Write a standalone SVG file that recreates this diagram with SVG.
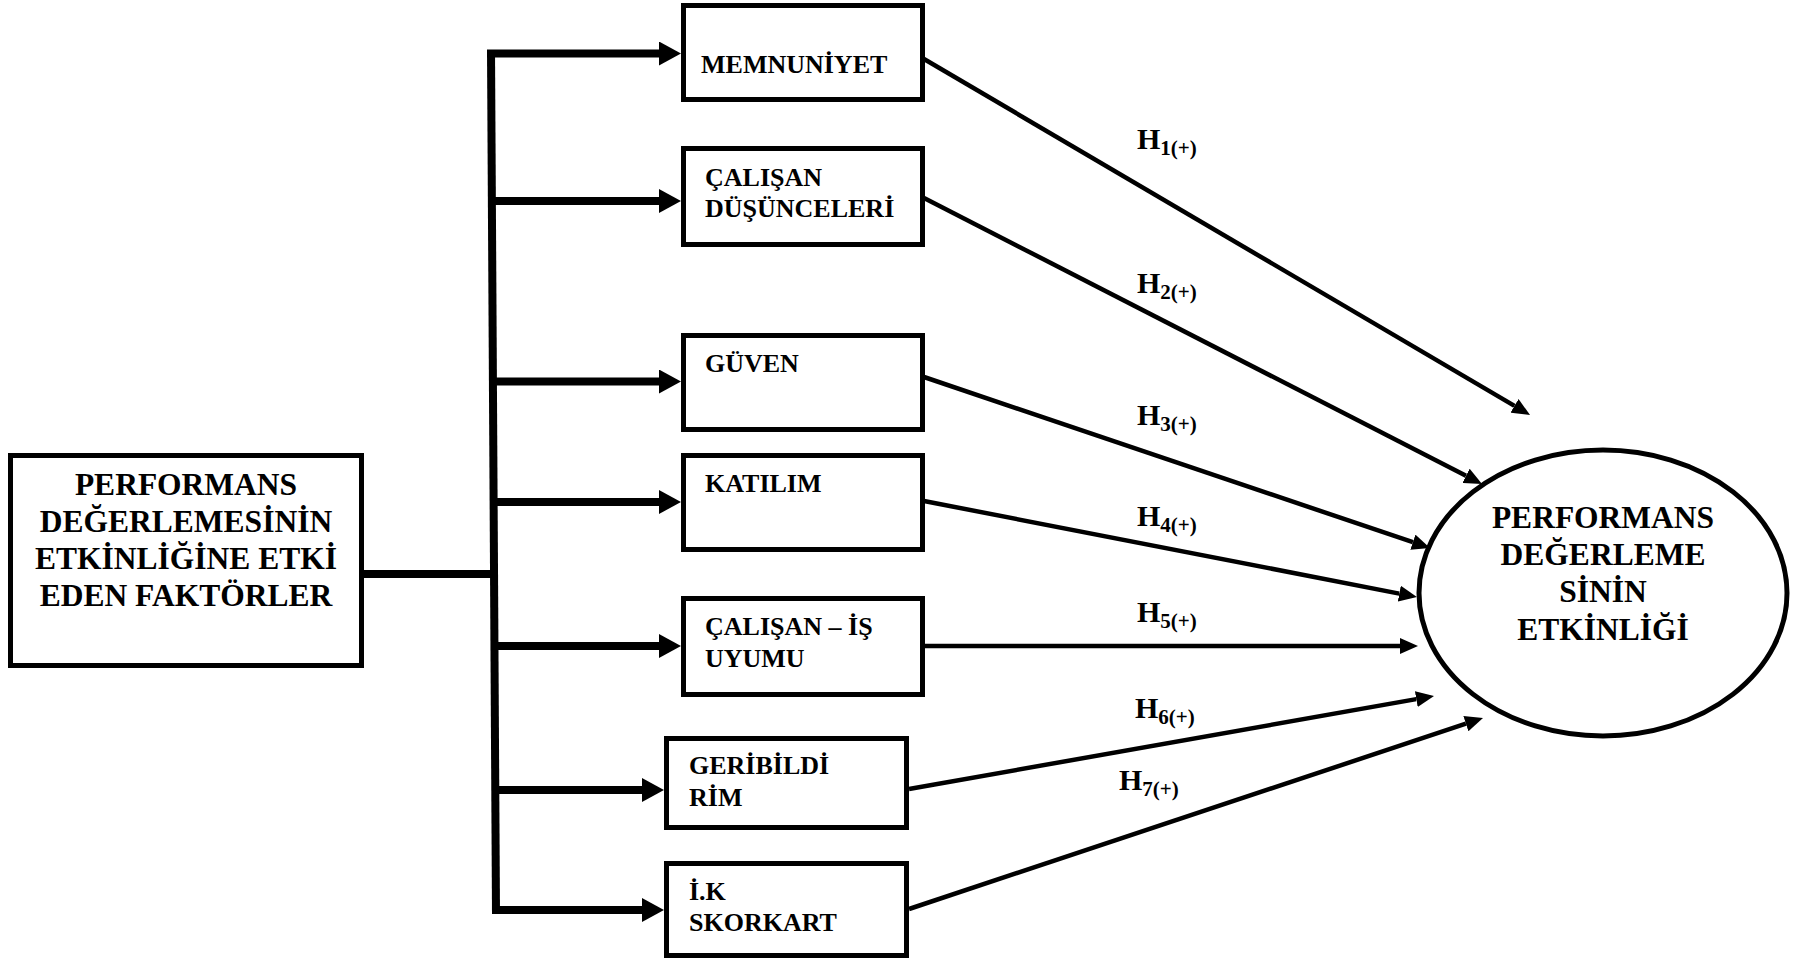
<svg xmlns="http://www.w3.org/2000/svg" width="1793" height="961" viewBox="0 0 1793 961">
<style>
.box{fill:#fff;stroke:#000;stroke-width:5}
.t{font-family:"Liberation Serif","Times New Roman",serif;font-weight:bold;fill:#000}
.big{font-size:31.5px}
.mid{font-size:26px}
.h{font-size:30px}
.s{font-size:21px}
.thick{stroke:#000;stroke-width:8;fill:none}
.thin{stroke:#000;stroke-width:4.5;fill:none}
.la{marker-end:url(#ah1)}
.ra{marker-end:url(#ah2)}
</style>
<defs>
<marker id="ah1" markerUnits="userSpaceOnUse" markerWidth="22" markerHeight="24" refX="0" refY="12" orient="auto"><path d="M0,0 L22,12 L0,24 z" fill="#000"/></marker>
<marker id="ah2" markerUnits="userSpaceOnUse" markerWidth="18" markerHeight="16" refX="0" refY="8" orient="auto"><path d="M0,0 L18,8 L0,16 z" fill="#000"/></marker>
</defs>
<rect width="1793" height="961" fill="#fff"/>
<g id="connectors">
<line class="thick" x1="364" y1="574" x2="494" y2="574"/>
<line class="thick" x1="491" y1="50" x2="496" y2="914"/>
<line class="thick la" x1="487" y1="53.5" x2="659" y2="53.5"/>
<line class="thick la" x1="491" y1="201" x2="659" y2="201"/>
<line class="thick la" x1="492" y1="381.5" x2="659" y2="381.5"/>
<line class="thick la" x1="493" y1="502" x2="659" y2="502"/>
<line class="thick la" x1="494" y1="646" x2="659" y2="646"/>
<line class="thick la" x1="495" y1="790" x2="642" y2="790"/>
<line class="thick la" x1="492" y1="910" x2="642" y2="910"/>
<line class="thin ra" x1="924" y1="59" x2="1514.5" y2="405.9"/>
<line class="thin ra" x1="924" y1="198" x2="1466" y2="475.8"/>
<line class="thin ra" x1="924" y1="377" x2="1412.9" y2="542.2"/>
<line class="thin ra" x1="924" y1="501" x2="1399.3" y2="593.6"/>
<line class="thin ra" x1="925" y1="646" x2="1400" y2="646"/>
<line class="thin ra" x1="909" y1="789" x2="1416.3" y2="699.1"/>
<line class="thin ra" x1="909" y1="909" x2="1465.9" y2="723.7"/>
</g>
<g id="labels">
<text class="t h" x="1137" y="149">H<tspan class="s" dy="6">1(+)</tspan></text>
<text class="t h" x="1137" y="293">H<tspan class="s" dy="6">2(+)</tspan></text>
<text class="t h" x="1137" y="425">H<tspan class="s" dy="6">3(+)</tspan></text>
<text class="t h" x="1137" y="526">H<tspan class="s" dy="6">4(+)</tspan></text>
<text class="t h" x="1137" y="622">H<tspan class="s" dy="6">5(+)</tspan></text>
<text class="t h" x="1135" y="718">H<tspan class="s" dy="6">6(+)</tspan></text>
<text class="t h" x="1119" y="790">H<tspan class="s" dy="6">7(+)</tspan></text>
</g>
<g id="source">
<rect class="box" x="10.5" y="455.5" width="351" height="210"/>
<text class="t big" text-anchor="middle" x="186" y="495">PERFORMANS</text>
<text class="t big" text-anchor="middle" x="186" y="532">DEĞERLEMESİNİN</text>
<text class="t big" text-anchor="middle" x="186" y="569">ETKİNLİĞİNE ETKİ</text>
<text class="t big" text-anchor="middle" x="186" y="606">EDEN FAKTÖRLER</text>
</g>
<g id="memnuniyet">
<rect class="box" x="683.5" y="5.5" width="239" height="94"/>
<text class="t mid" x="701" y="73">MEMNUNİYET</text>
</g>
<g id="calisan-dusunceleri">
<rect class="box" x="683.5" y="148.5" width="239" height="96"/>
<text class="t mid" x="705" y="186">ÇALIŞAN</text>
<text class="t mid" x="705" y="217">DÜŞÜNCELERİ</text>
</g>
<g id="guven">
<rect class="box" x="683.5" y="335.5" width="239" height="94"/>
<text class="t mid" x="705" y="372">GÜVEN</text>
</g>
<g id="katilim">
<rect class="box" x="683.5" y="455.5" width="239" height="94"/>
<text class="t mid" x="705" y="492">KATILIM</text>
</g>
<g id="calisan-is-uyumu">
<rect class="box" x="683.5" y="598.5" width="239" height="96"/>
<text class="t mid" x="705" y="635">ÇALIŞAN – İŞ</text>
<text class="t mid" x="705" y="667">UYUMU</text>
</g>
<g id="geribildirim">
<rect class="box" x="666.5" y="738.5" width="240" height="89"/>
<text class="t mid" x="689" y="774">GERİBİLDİ</text>
<text class="t mid" x="689" y="806">RİM</text>
</g>
<g id="ik-skorkart">
<rect class="box" x="666.5" y="863.5" width="240" height="92"/>
<text class="t mid" x="689" y="900">İ.K</text>
<text class="t mid" x="689" y="931">SKORKART</text>
</g>
<g id="target">
<ellipse class="box" cx="1603" cy="593" rx="184" ry="143"/>
<text class="t big" text-anchor="middle" x="1603" y="528">PERFORMANS</text>
<text class="t big" text-anchor="middle" x="1603" y="565">DEĞERLEME</text>
<text class="t big" text-anchor="middle" x="1603" y="602">SİNİN</text>
<text class="t big" text-anchor="middle" x="1603" y="640">ETKİNLİĞİ</text>
</g>
</svg>
